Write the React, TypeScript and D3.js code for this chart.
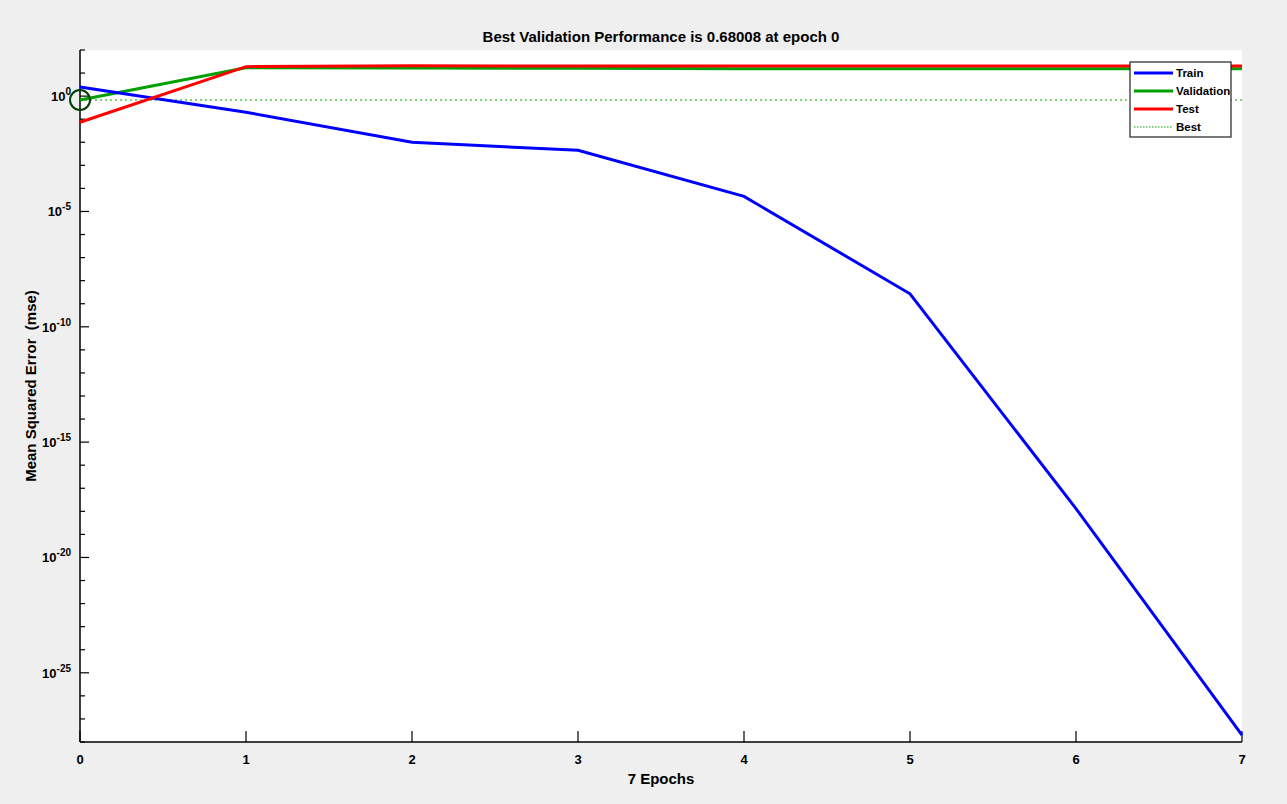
import React, { useEffect, useRef } from 'react';
import * as d3 from 'd3';

// epochs and mse values
const epochs = [0, 1, 2, 3, 4, 5, 6, 7];
const trainMse = [2.5, 0.2, 1e-2, 4.5e-3, 4.5e-5, 2.7e-9, 1.3e-18, 2e-28];
const validationMse = [0.68008, 17, 16.5, 16, 15.5, 15.5, 15.5, 15.5];
const testMse = [0.074, 19, 21, 20, 20, 20, 20, 20];
const bestMse = 0.68008;
const bestEpoch = 0;
const yTickExps = [0, -5, -10, -15, -20, -25];
const legendItems = [
  { name: 'Train', color: '#0000ff', dash: '' },
  { name: 'Validation', color: '#00a000', dash: '' },
  { name: 'Test', color: '#ff0000', dash: '' },
  { name: 'Best', color: '#00a000', dash: '1.5,1.5' },
];

const App = () => {
  const ref = useRef<SVGSVGElement | null>(null);

  useEffect(() => {
    const svg = d3.select(ref.current);
    svg.selectAll('*').remove();

    const W = 1287, H = 804;
    const left = 80, right = 1242, top = 50, bottom = 742;
    const font = 'Liberation Sans, Arial, sans-serif';

    svg.append('rect').attr('width', W).attr('height', H).attr('fill', '#efefef');
    svg.append('rect').attr('x', left).attr('y', top)
      .attr('width', right - left).attr('height', bottom - top).attr('fill', '#ffffff');

    const x = d3.scaleLinear().domain([0, 7]).range([left, right]);
    const y = d3.scaleLog().domain([1e-28, 1e2]).range([bottom, top]);

    // title
    svg.append('text').attr('x', (left + right) / 2).attr('y', 42)
      .attr('text-anchor', 'middle').style('font-family', font)
      .style('font-size', '15px').style('font-weight', 'bold')
      .text('Best Validation Performance is 0.68008 at epoch 0');

    // x axis
    const gx = svg.append('g');
    gx.append('line').attr('x1', left).attr('x2', right).attr('y1', bottom).attr('y2', bottom)
      .attr('stroke', '#000').attr('stroke-width', 1.5);
    epochs.forEach((e) => {
      gx.append('line').attr('x1', x(e)).attr('x2', x(e)).attr('y1', bottom).attr('y2', bottom - 11)
        .attr('stroke', '#000').attr('stroke-width', 1.2);
      gx.append('text').attr('x', x(e)).attr('y', bottom + 22).attr('text-anchor', 'middle')
        .style('font-family', font).style('font-size', '13px').style('font-weight', 'bold')
        .text(String(e));
    });
    svg.append('text').attr('x', (left + right) / 2).attr('y', 784).attr('text-anchor', 'middle')
      .style('font-family', font).style('font-size', '15px').style('font-weight', 'bold')
      .text('7 Epochs');

    // y axis
    const gy = svg.append('g');
    gy.append('line').attr('x1', left).attr('x2', left).attr('y1', top).attr('y2', bottom)
      .attr('stroke', '#000').attr('stroke-width', 1.5);
    d3.range(-28, 3).forEach((p) => {
      const major = yTickExps.includes(p);
      gy.append('line').attr('x1', left).attr('x2', left + (major ? 9 : 5))
        .attr('y1', y(Math.pow(10, p))).attr('y2', y(Math.pow(10, p)))
        .attr('stroke', '#000').attr('stroke-width', 1.2);
    });
    yTickExps.forEach((p) => {
      const t = gy.append('text').attr('x', left - 9).attr('y', y(Math.pow(10, p)) + 5)
        .attr('text-anchor', 'end').style('font-family', font)
        .style('font-size', '13px').style('font-weight', 'bold');
      t.append('tspan').text('10');
      t.append('tspan').attr('dy', -6).style('font-size', '10px').text(String(p));
    });
    svg.append('text').attr('transform', `translate(36,${(top + bottom) / 2 - 10}) rotate(-90)`)
      .attr('text-anchor', 'middle').style('font-family', font)
      .style('font-size', '15px').style('font-weight', 'bold')
      .attr('xml:space', 'preserve')
      .text('Mean Squared Error  (mse)');

    // best line
    svg.append('line').attr('x1', left).attr('x2', right).attr('y1', y(bestMse)).attr('y2', y(bestMse))
      .attr('stroke', '#00a000').attr('stroke-width', 1.2).attr('stroke-dasharray', '2,3');

    const line = d3.line<number>().x((_, i) => x(epochs[i])).y((d) => y(d));
    const series = [
      { vals: validationMse, color: '#00a000' },
      { vals: trainMse, color: '#0000ff' },
      { vals: testMse, color: '#ff0000' },
    ];
    series.forEach((s) => {
      svg.append('path').datum(s.vals).attr('d', line).attr('fill', 'none')
        .attr('stroke', s.color).attr('stroke-width', 3);
    });

    svg.append('circle').attr('cx', x(bestEpoch)).attr('cy', y(bestMse)).attr('r', 10)
      .attr('fill', 'none').attr('stroke', '#004000').attr('stroke-width', 2);

    // legend
    const lg = svg.append('g').attr('transform', 'translate(1130,62)');
    lg.append('rect').attr('width', 101).attr('height', 75).attr('fill', '#fff')
      .attr('stroke', '#222').attr('stroke-width', 1.2);
    legendItems.forEach((it, i) => {
      const yy = 11 + i * 18;
      lg.append('line').attr('x1', 4).attr('x2', 43).attr('y1', yy).attr('y2', yy)
        .attr('stroke', it.color).attr('stroke-width', it.dash ? 1 : 3)
        .attr('stroke-dasharray', it.dash || null);
      lg.append('text').attr('x', 46).attr('y', yy + 4).style('font-family', font)
        .style('font-size', '11.5px').style('font-weight', 'bold').text(it.name);
    });
  }, []);

  return <svg ref={ref} width={1287} height={804} style={{ position: 'absolute', left: 0, top: 0 }} />;
};

export default App;
